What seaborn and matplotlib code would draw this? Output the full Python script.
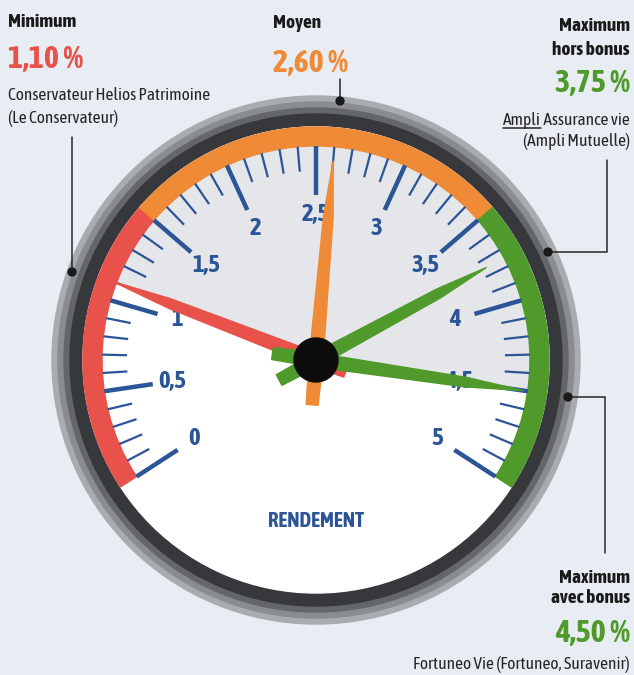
import numpy as np
import matplotlib
matplotlib.use("Agg")
import matplotlib.pyplot as plt
from matplotlib import font_manager as fm
from matplotlib.patches import Wedge, Circle, Polygon
import seaborn as sns

# ---- data ----
scale_min, scale_max = 0.0, 5.0
major_ticks = [0.0, 0.5, 1.0, 1.5, 2.0, 2.5, 3.0, 3.5, 4.0, 4.5, 5.0]
tick_labels = ["0", "0,5", "1", "1,5", "2", "2,5", "3", "3,5", "4", "4,5", "5"]
zone_bounds = [0.0, 1.5, 3.5, 5.0]
rate_labels = ["Minimum", "Moyen", "Maximum\nhors bonus", "Maximum\navec bonus"]
rate_values = [1.10, 2.60, 3.75, 4.50]
rate_text = ["1,10 %", "2,60 %", "3,75 %", "4,50 %"]
products = ["Conservateur Helios Patrimoine\n(Le Conservateur)", "",
            "Ampli Assurance vie\n(Ampli Mutuelle)",
            "Fortuneo Vie (Fortuneo, Suravenir)"]
gauge_title = "RENDEMENT"

# ---- style ----
RED, ORANGE, GREEN = "#e8524a", "#ef8a36", "#4f9a2a"
BLUE = "#2c5597"
zone_colors = [RED, ORANGE, GREEN]
needle_colors = [RED, ORANGE, GREEN, GREEN]
needle_len = [218, 200, 194, 210]
needle_tail = [32, 45, 42, 44]

sns.set_theme(style="white")

# condensed font files (bold + regular of the same family if possible)
_rank = {"ultra-condensed": 0, "extra-condensed": 1, "condensed": 2, "semi-condensed": 3}


def _w(w):
    return w if isinstance(w, (int, float)) else fm.weight_dict.get(w, 400)


_cands = [f for f in fm.fontManager.ttflist
          if (f.stretch in _rank or any(k in f.fname.lower() for k in ("condensed", "narrow")))
          and f.style == "normal"
          and "mono" not in f.name.lower() and "serif" not in f.name.lower()]


def _pick(target, same_name=None):
    pool = [f for f in _cands if same_name is None or f.name == same_name]
    pool = sorted(pool, key=lambda f: (abs(_w(f.weight) - target),
                                       abs(_rank.get(f.stretch, 2) - 2), f.name))
    return pool[0] if pool else None


_bold = _pick(700)
if _bold is not None and _w(_bold.weight) < 600:
    _bold = None
_reg = None
if _bold is not None:
    _reg = _pick(400, _bold.name)
    if _reg is not None and not 300 <= _w(_reg.weight) <= 500:
        _reg = None
if _reg is None:
    _reg = _pick(400)
FP_REG = fm.FontProperties(fname=_reg.fname) if _reg else fm.FontProperties(family="Roboto")
FP_BOLD = (fm.FontProperties(fname=_bold.fname) if _bold
           else fm.FontProperties(family="Roboto", weight="bold"))

W, H = 634, 675
fig = plt.figure(figsize=(W / 100, H / 100), dpi=100)
fig.patch.set_facecolor("#e7edf2")
ax = fig.add_axes([0, 0, 1, 1])
ax.set_xlim(0, W)
ax.set_ylim(0, H)
ax.axis("off")
renderer = fig.canvas.get_renderer()


def fit(text, width_px, max_size, fp):
    """font size giving the wanted rendered width, capped"""
    t = ax.text(0, 0, text, fontproperties=fp, fontsize=20)
    w = t.get_window_extent(renderer).width
    t.remove()
    return min(max_size, 20 * width_px / w)


LABEL_SIZE = fit("Maximum", 71, 14.5, FP_BOLD)
VALUE_SIZE = fit("2,60 %", 77, 23, FP_BOLD)
DESC_SIZE = fit("Conservateur Helios Patrimoine", 203, 14.5, FP_REG)
TICK_SIZE = fit("1,5", 28, 19, FP_BOLD)
TITLE_SIZE = fit(gauge_title, 96, 16, FP_BOLD)


def Y(py):
    return H - py


cx, cy = 316, Y(360)
A0, A1 = 213.0, -33.0


def ang(v):
    return A0 - (A0 - A1) * (v - scale_min) / (scale_max - scale_min)


# bezel
for r, c in [(264, "#a9acaf"), (258, "#8a8d90"), (252, "#646769"), (246, "#36383b")]:
    ax.add_patch(Circle((cx, cy), r, color=c, zorder=1))

# face: white with grey sector between min and max
ax.add_patch(Circle((cx, cy), 233, color="white", zorder=2))
ax.add_patch(Wedge((cx, cy), 233, ang(rate_values[3]), ang(rate_values[0]),
                   color="#e4e6e9", zorder=2))

# coloured zones
for lo, hi, c in zip(zone_bounds[:-1], zone_bounds[1:], zone_colors):
    ax.add_patch(Wedge((cx, cy), 233, ang(hi), ang(lo), width=19, color=c, zorder=2.5))

# ticks
for v in np.round(np.arange(scale_min, scale_max + 0.001, 0.1), 1):
    major = any(abs(v - m) < 1e-6 for m in major_ticks)
    t = np.radians(ang(v))
    r0, r1 = (214, 165) if major else (214, 189)
    ax.plot([cx + r0 * np.cos(t), cx + r1 * np.cos(t)],
            [cy + r0 * np.sin(t), cy + r1 * np.sin(t)],
            color=BLUE, lw=3.2 if major else 1.6, solid_capstyle="butt", zorder=3)

for v, lab in zip(major_ticks, tick_labels):
    t = np.radians(ang(v))
    ax.text(cx + 145 * np.cos(t), cy + 145 * np.sin(t), lab, ha="center", va="center",
            color=BLUE, fontproperties=FP_BOLD, fontsize=TICK_SIZE, zorder=3)

ax.text(cx, Y(527), gauge_title, ha="center", va="baseline", color=BLUE,
        fontproperties=FP_BOLD, fontsize=TITLE_SIZE, zorder=3)

# needles
for v, c, L, tl in zip(rate_values, needle_colors, needle_len, needle_tail):
    t = np.radians(ang(v))
    u = np.array([np.cos(t), np.sin(t)])
    n = np.array([-np.sin(t), np.cos(t)])
    c0 = np.array([cx, cy])
    pts = [c0 - tl * u + 6 * n, c0 + 7 * n, c0 + 0.72 * L * u + 4.8 * n, c0 + L * u,
           c0 + 0.72 * L * u - 4.8 * n, c0 - 7 * n, c0 - tl * u - 6 * n]
    ax.add_patch(Polygon(pts, closed=True, color=c, zorder=4))
ax.add_patch(Circle((cx, cy), 22, color="#0c0c0c", zorder=5))

# annotation blocks
blocks = [
    dict(x=8, ha="left", lab_y=[27], val_y=68, prod_y=[100, 123]),
    dict(x=273, ha="left", lab_y=[28], val_y=72, prod_y=[]),
    dict(x=630, ha="right", lab_y=[31, 55], val_y=92, prod_y=[125, 146]),
    dict(x=630, ha="right", lab_y=[583, 603], val_y=642, prod_y=[669]),
]
TXT = "#262626"
for i, b in enumerate(blocks):
    for line, yy in zip(rate_labels[i].split("\n"), b["lab_y"]):
        ax.text(b["x"], Y(yy), line, ha=b["ha"], va="baseline", color="#1a1a1a",
                fontproperties=FP_BOLD, fontsize=LABEL_SIZE)
    ax.text(b["x"], Y(b["val_y"]), rate_text[i], ha=b["ha"], va="baseline",
            color=needle_colors[i], fontproperties=FP_BOLD, fontsize=VALUE_SIZE)
    plines = products[i].split("\n") if products[i] else []
    for j, (line, yy) in enumerate(zip(plines, b["prod_y"])):
        if i == 2 and j == 0:
            rest = ax.text(b["x"], Y(yy), line[len("Ampli"):], ha="right", va="baseline",
                           color=TXT, fontproperties=FP_REG, fontsize=DESC_SIZE)
            bb = rest.get_window_extent(renderer).transformed(ax.transData.inverted())
            am = ax.text(bb.x0, Y(yy), "Ampli", ha="right", va="baseline",
                         color=TXT, fontproperties=FP_REG, fontsize=DESC_SIZE)
            ab = am.get_window_extent(renderer).transformed(ax.transData.inverted())
            ax.plot([ab.x0, ab.x1], [Y(yy + 3), Y(yy + 3)], color=TXT, lw=1.1)
        else:
            ax.text(b["x"], Y(yy), line, ha=b["ha"], va="baseline", color=TXT,
                    fontproperties=FP_REG, fontsize=DESC_SIZE)

# connectors
LC = "#262626"
ax.plot([72, 72], [Y(137), Y(272)], color=LC, lw=1.1, zorder=6)
ax.plot([340, 340], [Y(79), Y(101)], color=LC, lw=1.1, zorder=6)
ax.plot([607, 607, 548], [Y(160), Y(252), Y(252)], color=LC, lw=1.1, zorder=6)
ax.plot([568, 605, 605], [Y(397), Y(397), Y(553)], color=LC, lw=1.1, zorder=6)
dots_x = [72, 340, 548, 568]
dots_y = [Y(272), Y(101), Y(252), Y(397)]
sns.scatterplot(x=dots_x, y=dots_y, ax=ax, s=45, color="#1a1a1a", edgecolor="none",
                zorder=7, legend=False)
ax.set_xlim(0, W)
ax.set_ylim(0, H)
ax.axis("off")

fig.savefig("out.png", dpi=100, facecolor=fig.get_facecolor())
